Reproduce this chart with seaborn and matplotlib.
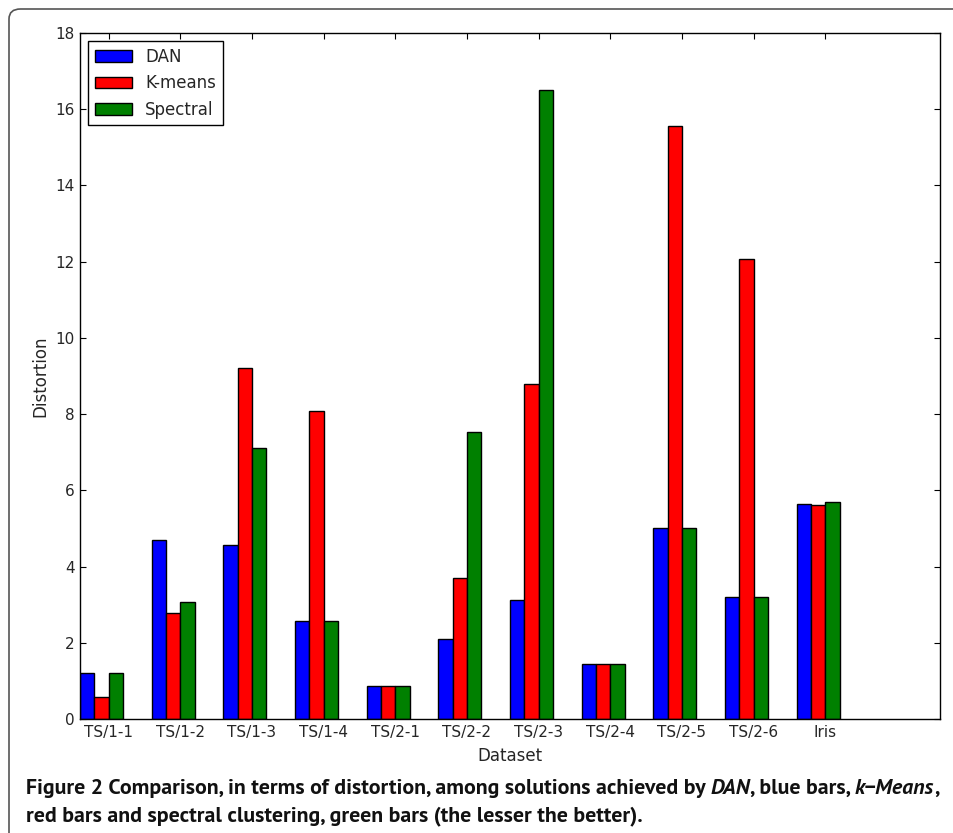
import matplotlib
matplotlib.use('Agg')
import numpy as np
import matplotlib.pyplot as plt
import seaborn as sns
import pandas as pd
from matplotlib import font_manager
from matplotlib.patches import FancyBboxPatch

datasets = ['TS/1-1', 'TS/1-2', 'TS/1-3', 'TS/1-4', 'TS/2-1', 'TS/2-2',
            'TS/2-3', 'TS/2-4', 'TS/2-5', 'TS/2-6', 'Iris']
methods = ['DAN', 'K-means', 'Spectral']
dan = [1.21, 4.70, 4.57, 2.58, 0.86, 2.10, 3.11, 1.45, 5.02, 3.20, 5.65]
kmeans = [0.58, 2.79, 9.22, 8.09, 0.86, 3.71, 8.78, 1.45, 15.55, 12.06, 5.62]
spectral = [1.21, 3.08, 7.12, 2.58, 0.86, 7.54, 16.50, 1.45, 5.02, 3.20, 5.70]

rows = []
for name, vals in zip(methods, [dan, kmeans, spectral]):
    for d, v in zip(datasets, vals):
        rows.append({'Dataset': d, 'Method': name, 'Distortion': v})
df = pd.DataFrame(rows)

sns.set_style('ticks')
plt.rcParams.update({
    'font.family': ['DejaVu Sans'],
    'font.sans-serif': ['DejaVu Sans'],
    'xtick.direction': 'in', 'ytick.direction': 'in',
    'xtick.top': True, 'ytick.right': True,
    'xtick.major.size': 4, 'ytick.major.size': 4,
    'axes.edgecolor': 'black', 'axes.linewidth': 1.0,
})

fig = plt.figure(figsize=(9.54, 8.33), dpi=100)
ax = fig.add_axes([80 / 954, 1 - 719 / 833, 860 / 954, 686 / 833])

sns.barplot(data=df, x='Dataset', y='Distortion', hue='Method',
            order=datasets, hue_order=methods,
            palette=['#0000ff', '#ff0000', '#008000'], saturation=1,
            width=0.6, edgecolor='black', linewidth=1.0, ax=ax)

# old-style layout: groups start at the left edge, tick sits at 2/3 of the group
ticks = np.asarray(ax.get_xticks(), dtype=float)
ax.set_xticks(ticks + 0.1, datasets)
ax.set_xlim(-0.3, 11.7)
ax.set_ylim(0, 18)
ax.set_yticks(range(0, 19, 2))
ax.tick_params(labelsize=11, color='black', pad=4)
ax.set_xlabel('Dataset', fontsize=12, family='DejaVu Sans')
ax.set_ylabel('Distortion', fontsize=12, family='DejaVu Sans')
ax.xaxis.set_label_coords(0.5, -0.041)
ax.yaxis.set_label_coords(-0.036, 0.5)
for s in ax.spines.values():
    s.set_visible(True)

leg = ax.legend(loc='upper left', fancybox=False,
                prop={'family': 'DejaVu Sans', 'size': 12},
                edgecolor='black', framealpha=1, handlelength=2.2,
                borderaxespad=0.5, title=None)
leg.get_frame().set_linewidth(1.0)

# outer frame of the journal figure
frame = FancyBboxPatch((9 / 954, -0.05), 1.05, 1 - 9 / 833 + 0.05,
                       boxstyle='round,pad=0,rounding_size=0.012',
                       transform=fig.transFigure, fill=False,
                       edgecolor='#555555', linewidth=1.2, clip_on=False)
fig.patches.append(frame)

# caption, bold with italic words (static humanist face, else DejaVu)
names = {f.name for f in font_manager.fontManager.ttflist}
cap_font = 'PT Sans' if 'PT Sans' in names else 'DejaVu Sans'

line1 = [('Figure 2 Comparison, in terms of distortion, among solutions achieved by ', 'normal'),
         ('DAN', 'italic'), (', blue bars, ', 'normal'), ('k\u2212Means', 'italic'), (',', 'normal')]
line2 = [('red bars and spectral clustering, green bars (the lesser the better).', 'normal')]

cap_texts = []
for y, parts in [(1 - 794 / 833, line1), (1 - 821 / 833, line2)]:
    cap_texts.append([fig.text(26 / 954, y, txt, va='baseline', ha='left',
                               fontsize=14, fontweight='bold', family=cap_font,
                               style=style, color='#111111')
                      for txt, style in parts])

r = fig.canvas.get_renderer()


def chain():
    # put each piece right after the one before it, on the same baseline
    for row in cap_texts:
        for a, b in zip(row[:-1], row[1:]):
            b.set_x(a.get_window_extent(r).x1 / fig.bbox.width)


chain()
w = cap_texts[0][-1].get_window_extent(r).x1 - cap_texts[0][0].get_window_extent(r).x0
scale = (943 - 26) / w
for row in cap_texts:
    for t in row:
        t.set_fontsize(14 * scale)
chain()

fig.savefig('out.png', dpi=100)
